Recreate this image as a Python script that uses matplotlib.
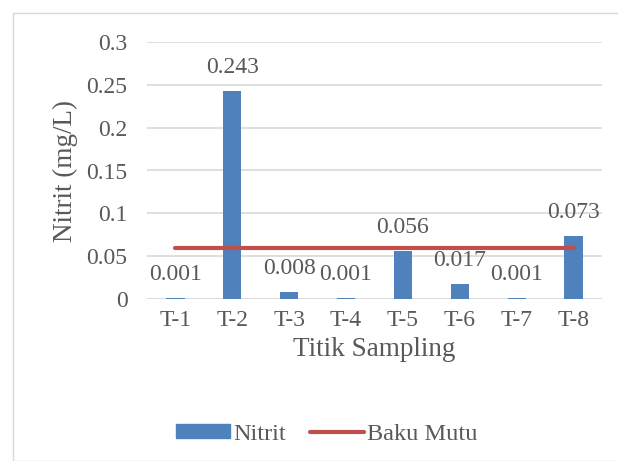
import numpy as np
import matplotlib.pyplot as plt
from matplotlib.patches import Rectangle
from matplotlib.lines import Line2D

# data
titik = ['T-1', 'T-2', 'T-3', 'T-4', 'T-5', 'T-6', 'T-7', 'T-8']
nitrit = [0.001, 0.243, 0.008, 0.001, 0.056, 0.017, 0.001, 0.073]
baku_mutu = [0.06] * len(titik)

plt.rcParams['font.family'] = ['Liberation Serif', 'DejaVu Serif']
txt = '#595959'

fig = plt.figure(figsize=(6.18, 4.61), dpi=100)
ax = fig.add_axes([147 / 618, 1 - 299 / 461, 455 / 618, 257 / 461])

x = np.arange(len(titik))
ax.bar(x, nitrit, width=0.32, color='#4F81BD', zorder=2)
ax.plot(x, baku_mutu, color='#C0504D', lw=3, solid_capstyle='round', zorder=3)

for xi, v in zip(x, nitrit):
    ax.annotate(f'{v:g}', (xi, v), xytext=(0, 17), textcoords='offset points',
                ha='center', va='center', fontsize=17, color=txt, zorder=4)

ax.set_xlim(-0.5, len(titik) - 0.5)
ax.set_ylim(0, 0.3)
ax.set_yticks([0, 0.05, 0.1, 0.15, 0.2, 0.25, 0.3])
ax.set_yticklabels(['0', '0.05', '0.1', '0.15', '0.2', '0.25', '0.3'])
ax.set_xticks(x)
ax.set_xticklabels(titik)
ax.tick_params(axis='both', length=0, labelsize=17, colors=txt)
ax.tick_params(axis='y', pad=14)
ax.tick_params(axis='x', pad=8)
ax.grid(axis='y', color='#D9D9D9', lw=1.2, zorder=0)
for s in ax.spines.values():
    s.set_visible(False)
ax.axhline(0, color='#D9D9D9', lw=1.2, zorder=1)

ax.set_xlabel('Titik Sampling', fontsize=19.5, color=txt, labelpad=4)
ax.set_ylabel('Nitrit (mg/L)', fontsize=19.5, color=txt, labelpad=6)

handles = [Rectangle((0, 0), 1, 1, color='#4F81BD'),
           Line2D([], [], color='#C0504D', lw=3, solid_capstyle='round')]
fig.legend(handles, ['Nitrit', 'Baku Mutu'], loc='center',
           bbox_to_anchor=(327 / 618, 1 - 434 / 461), ncol=2, frameon=False,
           fontsize=17.5, labelcolor=txt, handlelength=2.2, handleheight=0.5,
           handletextpad=0.15, columnspacing=1.0)

fig.patches.append(Rectangle((13 / 618, 0), 1, 1 - 13 / 461, transform=fig.transFigure,
                             fill=False, edgecolor='#D9D9D9', lw=1))

fig.savefig('out.png', dpi=100)
